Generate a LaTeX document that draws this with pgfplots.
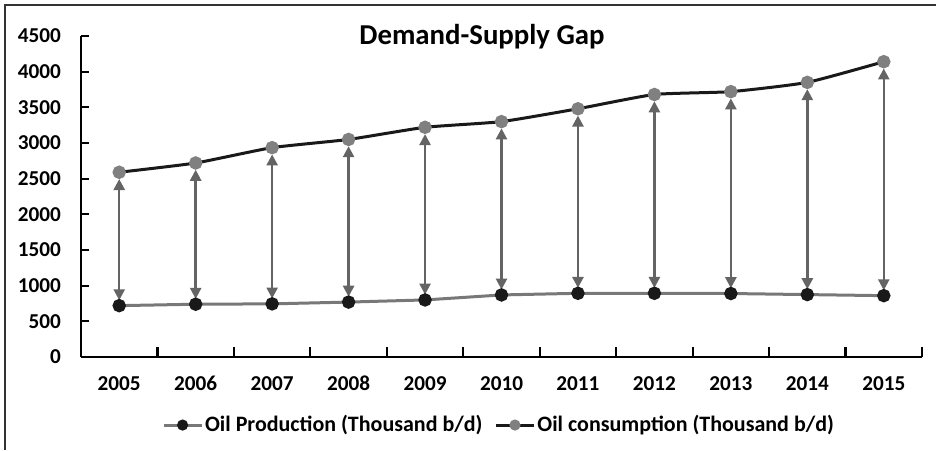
\documentclass[border=0pt]{standalone}
\usepackage{pgfplots}
\pgfplotsset{compat=1.18}
\usepackage{fontspec}
\setmainfont{Carlito}
\usetikzlibrary{arrows.meta}
\definecolor{arrowgray}{RGB}{100,100,100}
\definecolor{linegray}{RGB}{120,120,120}
\definecolor{markgray}{RGB}{128,128,128}
\definecolor{darkline}{RGB}{25,25,25}
\begin{document}
\begin{tikzpicture}
\path[use as bounding box] (-40.5pt,-46.5pt) rectangle (427.5pt,178.5pt);
\draw[line width=1pt, black!80] (-38pt,-46.5pt) -- (-38pt,176pt) -- (427.5pt,176pt);
\begin{axis}[
  at={(0,0)}, anchor=south west,
  scale only axis, width=420.5pt, height=160.5pt,
  xmin=-0.5, xmax=10.5, ymin=0, ymax=4500,
  axis x line*=bottom, axis y line*=left,
  axis line style={line width=1.25pt, black, -},
  xtick={0,...,10},
  xticklabels={2005,2006,2007,2008,2009,2010,2011,2012,2013,2014,2015},
  minor xtick={-0.5,0.5,...,10.5},
  major x tick style={draw=none},
  ytick={0,500,1000,1500,2000,2500,3000,3500,4000,4500},
  yticklabels={0,500,1000,1500,2000,2500,3000,3500,4000,4500},
  tick align=inside,
  major tick length=4pt, minor tick length=5pt,
  tick style={line width=1.1pt, black},
  ticklabel style={font=\fontsize{10.6}{12}\selectfont\bfseries},
  yticklabel style={xshift=-6.5pt},
  xticklabel style={yshift=-6pt, text height=7.2pt, text depth=0pt},
  title={Demand-Supply Gap},
  title style={at={(axis description cs:0.4768,0.96)}, anchor=center, font=\fontsize{14.4}{16}\selectfont\bfseries},
  legend style={at={(axis description cs:0.497,-0.212)}, anchor=center, draw=none, fill=none,
    font=\fontsize{11}{13}\selectfont\bfseries, legend columns=2,
    /tikz/every even column/.append style={column sep=5pt}, inner sep=0pt,
    nodes={inner sep=1pt}},
  legend cell align=left,
  legend image code/.code={\draw[mark repeat=2,mark phase=2,#1,mark size=2pt] plot coordinates {(0pt,0pt) (9.5pt,0pt) (19pt,0pt)};},
  clip=false,
]
% arrows: start just above production, end just below consumption
\addplot[forget plot, draw=arrowgray, line width=1.25pt,
  {Triangle[width=5.5pt,length=5.5pt]}-{Triangle[width=5.5pt,length=5.5pt]},
  quiver={u=0, v=\thisrow{dy}}] table {
x y dy
0 795 1700
1 815 1810
2 820 2020
3 845 2110
4 875 2250
5 945 2260
6 968 2417
7 968 2617
8 965 2660
9 950 2805
10 935 3110
};
\addplot[draw=linegray, line width=1.5pt, mark=*, mark size=2.6pt,
  mark options={fill=darkline, draw=darkline}] coordinates {
(0,720) (1,740) (2,745) (3,770) (4,800) (5,870) (6,893) (7,893) (8,890) (9,875) (10,860)
};
\addlegendentry{Oil Production (Thousand b/d)}
\addplot[draw=darkline, line width=1.5pt, smooth, tension=0.3, mark=*, mark size=2.6pt,
  mark options={fill=markgray, draw=markgray}] coordinates {
(0,2590) (1,2720) (2,2935) (3,3050) (4,3220) (5,3300) (6,3480) (7,3680) (8,3720) (9,3850) (10,4140)
};
\addlegendentry{Oil consumption (Thousand b/d)}
\end{axis}
\end{tikzpicture}
\end{document}
